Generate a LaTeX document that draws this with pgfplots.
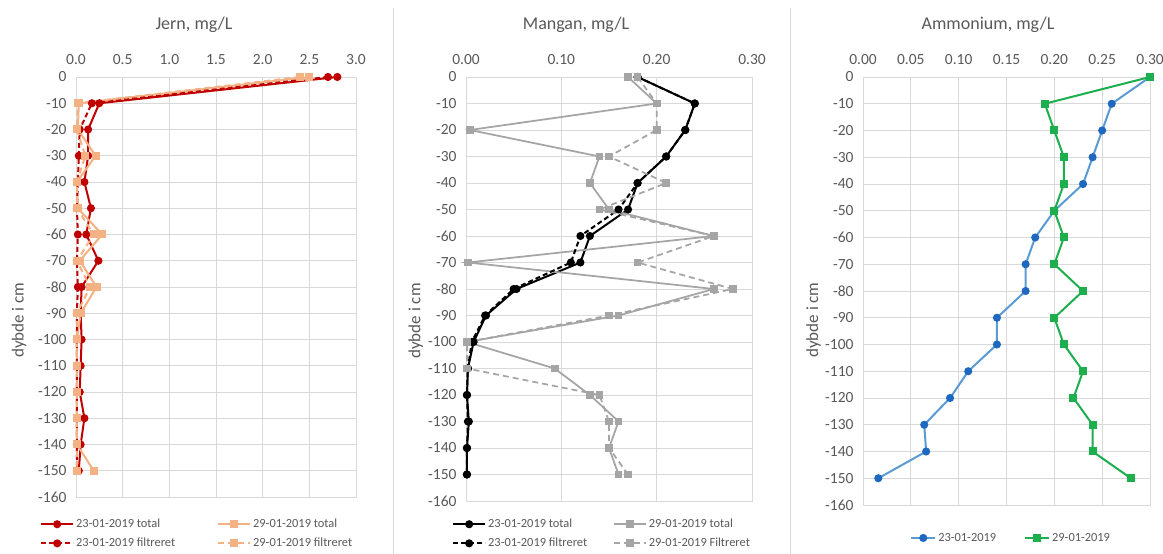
\documentclass[border=0pt]{standalone}
\usepackage{fontspec}
\setmainfont{Carlito}
\usepackage{pgfplots}
\pgfplotsset{compat=1.18}
\definecolor{txt}{HTML}{595959}
\definecolor{grd}{HTML}{D9D9D9}
\definecolor{jred}{HTML}{C00000}
\definecolor{jor}{HTML}{F4B183}
\definecolor{mgray}{HTML}{A5A5A5}
\definecolor{ablue}{HTML}{5B9BD5}
\definecolor{abluem}{HTML}{1F68C0}
\definecolor{agreen}{HTML}{1DAF4E}
\pgfplotsset{
 panel/.style={
  scale only axis,
  anchor=south west,
  ymin=-160, ymax=0,
  ytick={-160,-150,...,0},
  xticklabel pos=upper,
  grid=major,
  major grid style={grd, line width=0.8pt},
  axis line style={grd, line width=0.8pt},
  tick style={draw=none},
  tick label style={font=\fontsize{15.5}{18}\selectfont, text=txt},
  yticklabel style={xshift=-6pt},
  /pgf/number format/assume math mode=true,
  ylabel={dybde i cm},
  ylabel style={font=\fontsize{17}{20}\selectfont, text=txt, anchor=center},
  legend style={draw=none, fill=none, font=\fontsize{12.4}{14}\selectfont, text=txt, anchor=north west, inner sep=0pt, row sep=5pt},
  legend cell align=left,
  legend columns=2,
  clip=false,
 },
 lim/.style={line width=2pt, mark size=3pt},
}
\begin{document}
\begin{tikzpicture}[x=1pt,y=1pt]
\useasboundingbox (0,0) rectangle (1163,554);
\fill[white] (0,0) rectangle (1163,554);
\draw[grd, line width=0.8pt] (393,0) -- (393,546);
\draw[grd, line width=0.8pt] (790,0) -- (790,546);
\node[font=\fontsize{18}{21}\selectfont, text=txt] at (194,529) {Jern, mg/L};
\node[font=\fontsize{18}{21}\selectfont, text=txt] at (576,529) {Mangan, mg/L};
\node[font=\fontsize{18}{21}\selectfont, text=txt] at (988,529) {Ammonium, mg/L};

% ---------------- Jern
\begin{axis}[panel, at={(76pt,57pt)}, width=280pt, height=420pt,
  xmin=0, xmax=3, xtick={0,0.5,...,3},
  xticklabel style={yshift=9pt, /pgf/number format/.cd, fixed, fixed zerofill, precision=1},
  ylabel style={at={(axis description cs:-0.2036,0.421)}},
  legend style={at={(axis description cs:-0.1286,-0.0476)},
    /tikz/column 2/.style={column sep=40pt}},
  legend image code/.code={\draw[mark repeat=2,mark phase=2] plot coordinates {(0pt,0pt) (16pt,0pt) (32pt,0pt)};},
]
\addplot[lim, color=jred, mark=*, mark options={solid, fill=jred}] coordinates {
(2.80,0) (0.25,-10) (0.13,-20) (0.13,-30) (0.09,-40) (0.16,-50) (0.11,-60) (0.24,-70)
(0.06,-80) (0.05,-90) (0.06,-100) (0.05,-110) (0.04,-120) (0.09,-130) (0.05,-140) (0.03,-150)};
\addlegendentry{23-01-2019 total}
\addplot[lim, color=jor, mark=square*, mark options={solid, fill=jor}] coordinates {
(2.50,0) (0.03,-10) (0.02,-20) (0.21,-30) (0.01,-40) (0.02,-50) (0.28,-60) (0.04,-70)
(0.22,-80) (0.05,-90) (0.01,-100) (0.01,-110) (0.01,-120) (0.01,-130) (0.01,-140) (0.19,-150)};
\addlegendentry{29-01-2019 total}
\addplot[lim, color=jred, dash pattern=on 5pt off 3pt, mark=*, mark options={solid, fill=jred}] coordinates {
(2.70,0) (0.17,-10) (0.04,-20) (0.03,-30) (0.02,-40) (0.01,-50) (0.02,-60) (0.01,-70)
(0.02,-80) (0.01,-90) (0.01,-100) (0.01,-110) (0.01,-120) (0.01,-130) (0.01,-140) (0.01,-150)};
\addlegendentry{23-01-2019 filtreret}
\addplot[lim, color=jor, dash pattern=on 6pt off 4pt, mark=square*, mark options={solid, fill=jor}] coordinates {
(2.40,0) (0.02,-10) (0.01,-20) (0.10,-30) (0.01,-40) (0.01,-50) (0.19,-60) (0.01,-70)
(0.15,-80) (0.01,-90) (0.01,-100) (0.01,-110) (0.01,-120) (0.01,-130) (0.01,-140) (0.01,-150)};
\addlegendentry{29-01-2019 filtreret}
\end{axis}

% ---------------- Mangan
\begin{axis}[panel, at={(466pt,53pt)}, width=286pt, height=424pt,
  xmin=0, xmax=0.3, xtick={0,0.1,0.2,0.3},
  xticklabel style={yshift=9pt, /pgf/number format/.cd, fixed, fixed zerofill, precision=2},
  ylabel style={at={(axis description cs:-0.175,0.4245)}},
  legend style={at={(axis description cs:-0.049,-0.0377)},
    /tikz/column 2/.style={column sep=24pt}},
  legend image code/.code={\draw[mark repeat=2,mark phase=2] plot coordinates {(0pt,0pt) (16pt,0pt) (32pt,0pt)};},
]
\addplot[lim, color=black, mark=*, mark options={solid, fill=black}] coordinates {
(0.18,0) (0.24,-10) (0.23,-20) (0.21,-30) (0.18,-40) (0.17,-50) (0.13,-60) (0.12,-70)
(0.053,-80) (0.021,-90) (0.008,-100) (0.002,-110) (0.001,-120) (0.003,-130) (0.001,-140) (0.001,-150)};
\addlegendentry{23-01-2019 total}
\addplot[lim, line width=1.75pt, color=mgray, mark=square*, mark options={solid, fill=mgray}] coordinates {
(0.17,0) (0.20,-10) (0.004,-20) (0.14,-30) (0.13,-40) (0.15,-50) (0.26,-60) (0.002,-70)
(0.26,-80) (0.16,-90) (0.001,-100) (0.093,-110) (0.13,-120) (0.16,-130) (0.15,-140) (0.16,-150)};
\addlegendentry{29-01-2019 total}
\addplot[lim, color=black, dash pattern=on 5pt off 3pt, mark=*, mark options={solid, fill=black}] coordinates {
(0.18,0) (0.24,-10) (0.23,-20) (0.21,-30) (0.18,-40) (0.16,-50) (0.12,-60) (0.11,-70)
(0.05,-80) (0.02,-90) (0.006,-100) (0.002,-110) (0.001,-120) (0.002,-130) (0.001,-140) (0.001,-150)};
\addlegendentry{23-01-2019 filtreret}
\addplot[lim, line width=1.75pt, color=mgray, dash pattern=on 6pt off 4pt, mark=square*, mark options={solid, fill=mgray}] coordinates {
(0.18,0) (0.20,-10) (0.20,-20) (0.15,-30) (0.21,-40) (0.14,-50) (0.26,-60) (0.18,-70)
(0.28,-80) (0.15,-90) (0.001,-100) (0.001,-110) (0.14,-120) (0.15,-130) (0.15,-140) (0.17,-150)};
\addlegendentry{29-01-2019 Filtreret}
\end{axis}

% ---------------- Ammonium
\begin{axis}[panel, at={(863pt,49pt)}, width=287pt, height=428pt,
  xmin=0, xmax=0.3, xtick={0,0.05,...,0.31},
  xticklabel style={yshift=9pt, /pgf/number format/.cd, fixed, fixed zerofill, precision=2},
  ylabel style={at={(axis description cs:-0.172,0.432)}},
  legend style={at={(axis description cs:0.164,-0.0607)},
    /tikz/column 2/.style={column sep=26pt}},
  legend image code/.code={\draw[mark repeat=2,mark phase=2] plot coordinates {(0pt,0pt) (12pt,0pt) (24pt,0pt)};},
]
\addplot[lim, color=ablue, mark=*, mark options={solid, draw=abluem, fill=abluem}] coordinates {
(0.30,0) (0.26,-10) (0.25,-20) (0.24,-30) (0.23,-40) (0.20,-50) (0.18,-60) (0.17,-70)
(0.17,-80) (0.14,-90) (0.14,-100) (0.11,-110) (0.091,-120) (0.064,-130) (0.066,-140) (0.016,-150)};
\addlegendentry{23-01-2019}
\addplot[lim, color=agreen, mark=square*, mark options={solid, fill=agreen}] coordinates {
(0.30,0) (0.19,-10) (0.20,-20) (0.21,-30) (0.21,-40) (0.20,-50) (0.21,-60) (0.20,-70)
(0.23,-80) (0.20,-90) (0.21,-100) (0.23,-110) (0.22,-120) (0.24,-130) (0.24,-140) (0.28,-150)};
\addlegendentry{29-01-2019}
\end{axis}
\end{tikzpicture}
\end{document}
